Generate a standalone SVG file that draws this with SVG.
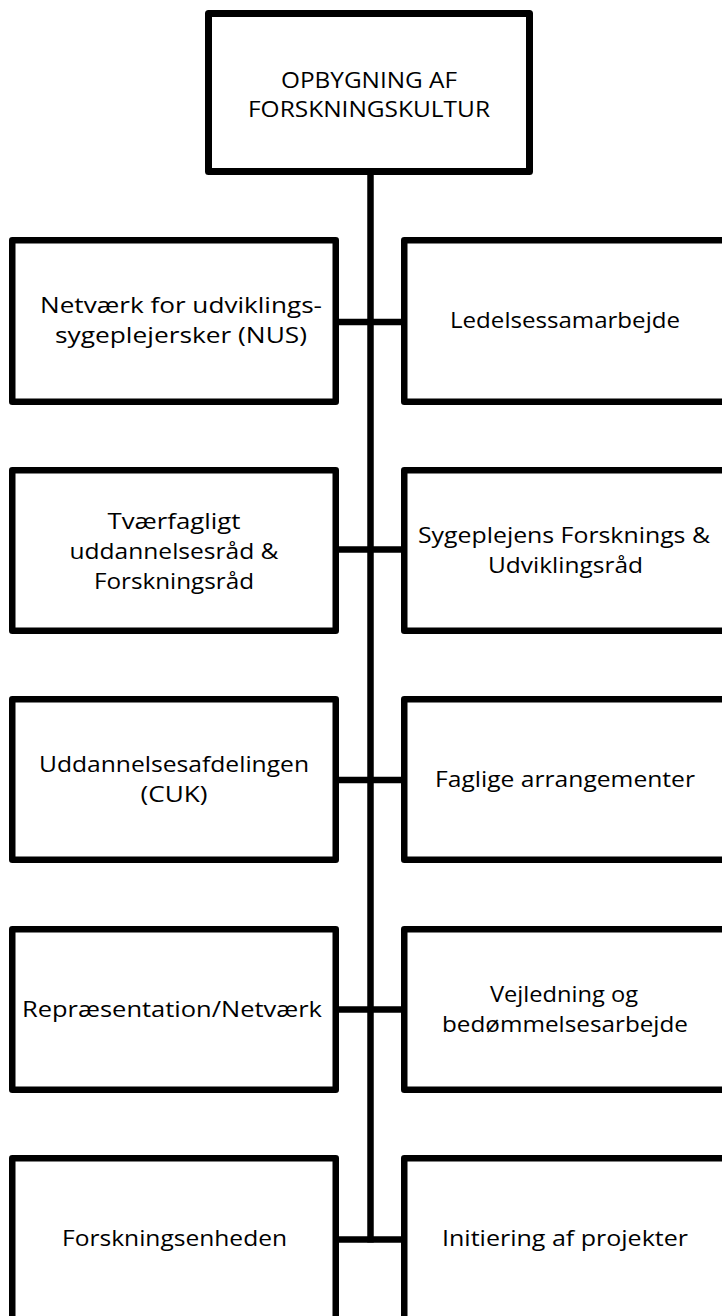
<svg xmlns="http://www.w3.org/2000/svg" width="722" height="1316" viewBox="0 0 722 1316">
<style>
.box{fill:#ffffff;stroke:#000000;stroke-width:6.5;stroke-linejoin:round}
.top{stroke-width:7}
.con{stroke:#000000;stroke-width:6.5;fill:none}
text{font-family:"Open Sans","Noto Sans","Liberation Sans",sans-serif;font-size:22.5px;fill:#000000;text-anchor:middle}
</style>
<rect width="722" height="1316" fill="#ffffff"/>
<g id="connectors">
<line class="con" x1="370.5" y1="172" x2="370.5" y2="1242.5"/>
<line class="con" x1="336" y1="322" x2="405" y2="322"/>
<line class="con" x1="336" y1="549.5" x2="405" y2="549.5"/>
<line class="con" x1="336" y1="780" x2="405" y2="780"/>
<line class="con" x1="336" y1="1009.5" x2="405" y2="1009.5"/>
<line class="con" x1="336" y1="1239.5" x2="405" y2="1239.5"/>
</g>
<g id="root">
<rect class="box top" x="208.5" y="13.5" width="321" height="158"/>
<text x="369" y="88" textLength="176" lengthAdjust="spacingAndGlyphs">OPBYGNING AF</text>
<text x="369" y="117" textLength="242" lengthAdjust="spacingAndGlyphs">FORSKNINGSKULTUR</text>
</g>
<g id="n-netvaerk">
<rect class="box" x="12.25" y="240.25" width="323.5" height="161.5"/>
<text x="181" y="313" textLength="282" lengthAdjust="spacingAndGlyphs">Netværk for udviklings-</text>
<text x="181" y="343" textLength="252" lengthAdjust="spacingAndGlyphs">sygeplejersker (NUS)</text>
</g>
<g id="n-ledelse">
<rect class="box" x="404.25" y="240.25" width="323.5" height="161.5"/>
<text x="565" y="328" textLength="230" lengthAdjust="spacingAndGlyphs">Ledelsessamarbejde</text>
</g>
<g id="n-tvaerfagligt">
<rect class="box" x="12.25" y="470.25" width="323.5" height="160.5"/>
<text x="174" y="529" textLength="133" lengthAdjust="spacingAndGlyphs">Tværfagligt</text>
<text x="174" y="559" textLength="209" lengthAdjust="spacingAndGlyphs">uddannelsesråd &amp;</text>
<text x="174" y="589" textLength="160" lengthAdjust="spacingAndGlyphs">Forskningsråd</text>
</g>
<g id="n-sygeplejens">
<rect class="box" x="404.25" y="470.25" width="323.5" height="160.5"/>
<text x="564" y="543" textLength="292" lengthAdjust="spacingAndGlyphs">Sygeplejens Forsknings &amp;</text>
<text x="565.5" y="573" textLength="155" lengthAdjust="spacingAndGlyphs">Udviklingsråd</text>
</g>
<g id="n-uddannelsesafdelingen">
<rect class="box" x="12.25" y="699.25" width="323.5" height="160.5"/>
<text x="174" y="772" textLength="270" lengthAdjust="spacingAndGlyphs">Uddannelsesafdelingen</text>
<text x="174" y="802" textLength="67" lengthAdjust="spacingAndGlyphs">(CUK)</text>
</g>
<g id="n-faglige">
<rect class="box" x="404.25" y="699.25" width="323.5" height="160.5"/>
<text x="565" y="787" textLength="260" lengthAdjust="spacingAndGlyphs">Faglige arrangementer</text>
</g>
<g id="n-repraesentation">
<rect class="box" x="12.25" y="929.25" width="323.5" height="160.5"/>
<text x="172" y="1016.5" textLength="300" lengthAdjust="spacingAndGlyphs">Repræsentation/Netværk</text>
</g>
<g id="n-vejledning">
<rect class="box" x="404.25" y="929.25" width="323.5" height="160.5"/>
<text x="564" y="1002" textLength="148" lengthAdjust="spacingAndGlyphs">Vejledning og</text>
<text x="565" y="1032" textLength="246" lengthAdjust="spacingAndGlyphs">bedømmelsesarbejde</text>
</g>
<g id="n-forskningsenheden">
<rect class="box" x="12.25" y="1158.25" width="323.5" height="161.5"/>
<text x="174.5" y="1246" textLength="225" lengthAdjust="spacingAndGlyphs">Forskningsenheden</text>
</g>
<g id="n-initiering">
<rect class="box" x="404.25" y="1158.25" width="323.5" height="161.5"/>
<text x="565" y="1246" textLength="246" lengthAdjust="spacingAndGlyphs">Initiering af projekter</text>
</g>
</svg>
